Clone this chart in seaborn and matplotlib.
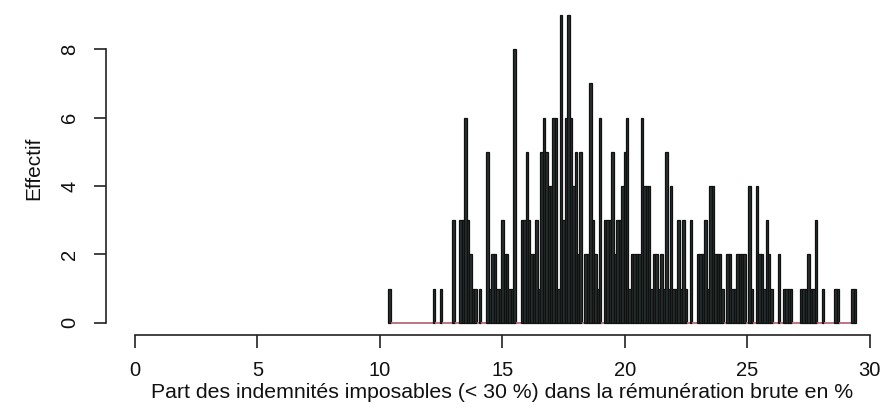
import matplotlib
matplotlib.use("Agg")
import matplotlib.pyplot as plt
import seaborn as sns

# bin centres (%), one bin = 0.1 point, and number of employees in each bin
share = [
    10.4, 12.2, 12.5, 13.0, 13.3, 13.4, 13.5, 13.6, 13.7, 13.8, 13.9, 14.1,
    14.4, 14.5, 14.6, 14.7, 14.8, 14.9, 15.0, 15.1, 15.2, 15.3, 15.4, 15.5,
    15.8, 15.9, 16.0, 16.1, 16.2, 16.3, 16.4, 16.5, 16.6, 16.7, 16.8, 16.9,
    17.0, 17.1, 17.2, 17.3, 17.4, 17.5, 17.6, 17.7, 17.8, 17.9, 18.0, 18.1,
    18.2, 18.4, 18.5, 18.6, 18.7, 18.8, 18.9, 19.0, 19.2, 19.3, 19.4, 19.5,
    19.6, 19.7, 19.8, 19.9, 20.0, 20.1, 20.2, 20.3, 20.4, 20.5, 20.6, 20.7,
    20.8, 20.9, 21.0, 21.1, 21.2, 21.3, 21.4, 21.5, 21.6, 21.7, 21.8, 21.9,
    22.0, 22.1, 22.2, 22.3, 22.4, 22.5, 22.7, 23.0, 23.1, 23.2, 23.3, 23.4,
    23.5, 23.6, 23.7, 23.8, 23.9, 24.0, 24.2, 24.3, 24.4, 24.5, 24.6, 24.7,
    24.8, 24.9, 25.1, 25.2, 25.4, 25.5, 25.6, 25.7, 25.8, 25.9, 26.0, 26.3,
    26.5, 26.6, 26.7, 26.8, 27.2, 27.3, 27.4, 27.5, 27.6, 27.7, 27.8, 28.1,
    28.6, 28.7, 29.3, 29.4,
]
effectif = [
    1, 1, 1, 3, 3, 3, 6, 3, 2, 1, 1, 1,
    5, 1, 2, 2, 1, 1, 3, 2, 2, 1, 1, 8,
    3, 3, 5, 3, 2, 2, 3, 1, 5, 6, 5, 4,
    4, 6, 6, 1, 9, 3, 6, 9, 6, 4, 5, 2,
    5, 2, 2, 7, 3, 2, 1, 6, 3, 3, 3, 5,
    2, 3, 3, 4, 5, 6, 1, 2, 2, 2, 2, 6,
    4, 4, 4, 1, 2, 2, 1, 2, 1, 5, 1, 4,
    1, 1, 3, 1, 3, 1, 3, 2, 2, 2, 3, 1,
    4, 4, 2, 2, 2, 1, 2, 2, 1, 1, 2, 2,
    2, 2, 4, 1, 4, 2, 2, 1, 3, 2, 1, 2,
    1, 1, 1, 1, 1, 1, 1, 2, 1, 1, 3, 1,
    1, 1, 1, 1,
]
x_ticks = [0, 5, 10, 15, 20, 25, 30]
y_ticks = [0, 2, 4, 6, 8]

sns.set_theme(style="white")
plt.rcParams['font.family'] = ['Liberation Sans', 'DejaVu Sans']
plt.rcParams['text.color'] = '#111111'
plt.rcParams['axes.labelcolor'] = '#111111'
plt.rcParams['xtick.color'] = '#111111'
plt.rcParams['ytick.color'] = '#111111'

fig = plt.figure(figsize=(8.83, 4.08), dpi=100)
# R-like plot region: limits padded 4 % around the data range
ax = fig.add_axes([0.1196, 0.1789, 0.8985, 0.8147])

sns.histplot(x=share, weights=effectif, binwidth=0.1, binrange=(10.35, 29.45),
             color='#263030', edgecolor='#101010', linewidth=0.9, alpha=1,
             ax=ax)
# zero-count bins leave a reddish trace on the baseline in the original
for patch in ax.patches:
    if patch.get_height() == 0:
        patch.set_edgecolor('#b86a78')
        patch.set_linewidth(1.3)

ax.set_xlim(-1.2, 31.2)
ax.set_ylim(-0.36, 9.36)
ax.set_xticks(x_ticks)
ax.set_yticks(y_ticks)
ax.set_xticklabels([str(t) for t in x_ticks])
ax.set_yticklabels([str(t) for t in y_ticks], rotation=90, va='center')

for side in ['top', 'right']:
    ax.spines[side].set_visible(False)
ax.spines['left'].set_bounds(0, 8)
ax.spines['bottom'].set_bounds(0, 30)
for side in ['left', 'bottom']:
    ax.spines[side].set_color('#222222')
    ax.spines[side].set_linewidth(1.2)

ax.tick_params(axis='both', direction='out', length=9, width=1.2,
               color='#222222', labelsize=14.5, pad=10, left=True, bottom=True)

ax.set_xlabel('Part des indemnités imposables (< 30 %) dans la rémunération brute en %',
              fontsize=15.3, labelpad=2)
ax.set_ylabel('Effectif', fontsize=15, labelpad=12)

plt.savefig('out.png', dpi=100)
